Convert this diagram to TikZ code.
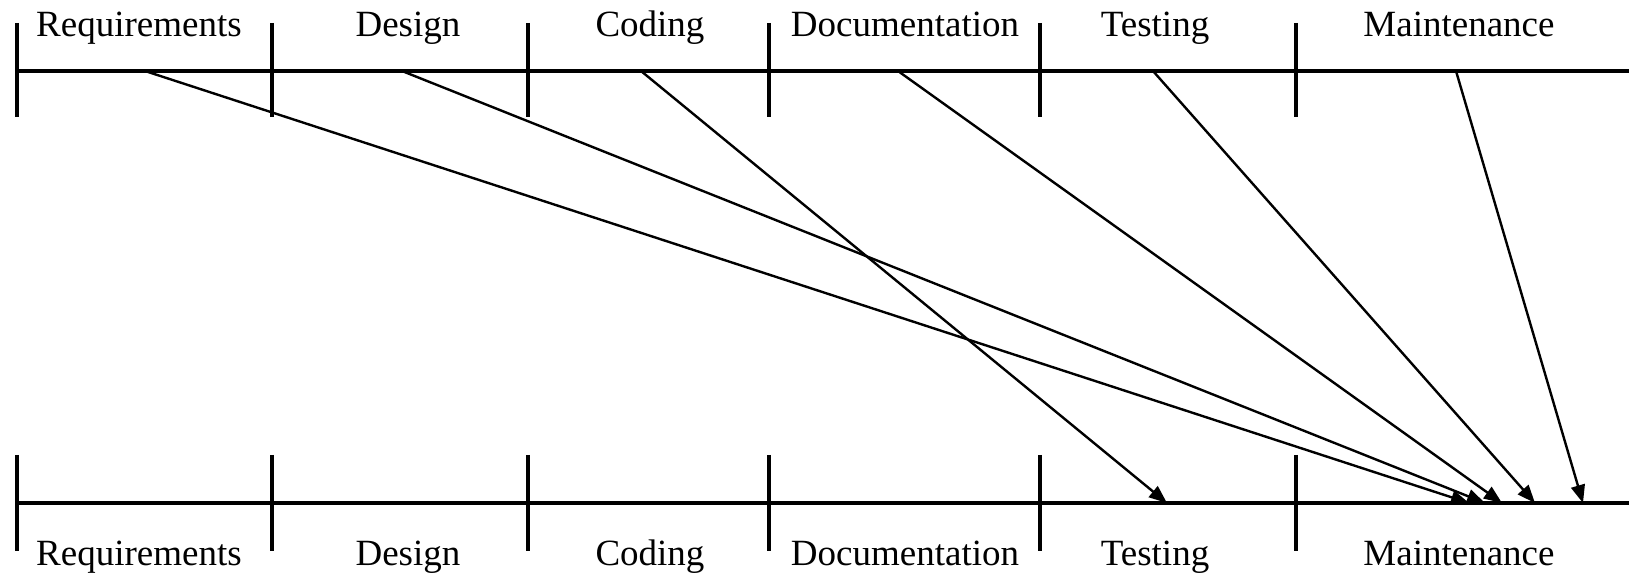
\documentclass[tikz,border=0pt]{standalone}
\usepackage{fontspec}
\setmainfont{Liberation Serif}
\usetikzlibrary{arrows.meta}
\begin{document}
\begin{tikzpicture}[x=0.5pt,y=-0.5pt,
  axis/.style={line width=1.8pt},
  tick/.style={line width=1.8pt},
  phase/.style={anchor=base,inner sep=0pt,font=\fontsize{18.5pt}{22pt}\selectfont},
  link/.style={line width=1.2pt,-{Triangle[length=9pt,width=7pt]}}]
\useasboundingbox (0,0) rectangle (1629,576);

% timelines
\coordinate (t0) at (17,71);  \coordinate (t1) at (1629,71);
\coordinate (b0) at (17,503); \coordinate (b1) at (1629,503);
\draw[axis] (t0) -- (t1);
\draw[axis] (b0) -- (b1);

% phase boundaries
\foreach \x in {17,272,528,769,1040,1296}{
  \draw[tick] (\x,23) -- (\x,117);
  \draw[tick] (\x,455) -- (\x,551);
}

% phase labels, top and bottom
\foreach \n/\x/\t in {req/139/Requirements,des/408/Design,cod/650/Coding,
                      doc/905/Documentation,tst/1155/Testing,mnt/1459/Maintenance}{
  \node[phase] (top-\n) at (\x,37) {\t};
  \node[phase] (bot-\n) at (\x,566) {\t};
}

% connection points on the timelines
\coordinate (sreq) at (145,71);
\coordinate (sdes) at (402,71);
\coordinate (scod) at (641,71);
\coordinate (sdoc) at (898,71);
\coordinate (stst) at (1153,71);
\coordinate (smnt) at (1456,71);

\coordinate (ereq) at (1469,503);
\coordinate (edes) at (1485,503);
\coordinate (ecod) at (1167,503);
\coordinate (edoc) at (1502,503);
\coordinate (etst) at (1535,503);
\coordinate (emnt) at (1583,503);

\draw[link] (sreq) -- (ereq);
\draw[link] (sdes) -- (edes);
\draw[link] (scod) -- (ecod);
\draw[link] (sdoc) -- (edoc);
\draw[link] (stst) -- (etst);
\draw[link] (smnt) -- (emnt);
\end{tikzpicture}
\end{document}
